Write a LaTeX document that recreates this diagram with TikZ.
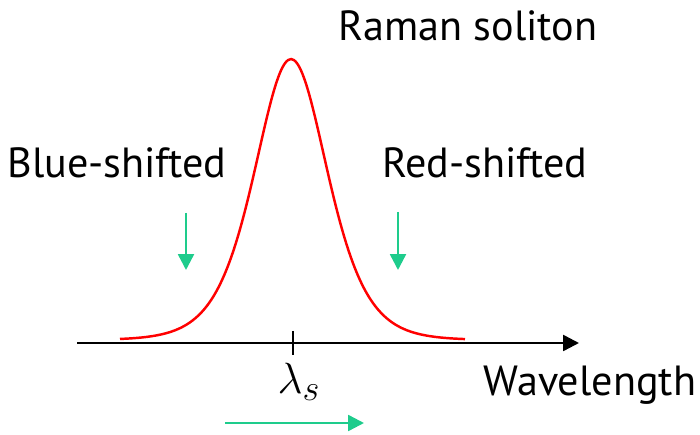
\documentclass[tikz,border=0pt]{standalone}
\usepackage{fontspec}
\setmainfont{PT Sans}
\usepackage{tikz}
\usetikzlibrary{positioning, arrows.meta}

\definecolor{shiftgreen}{RGB}{30,204,140}

\begin{document}
\begin{tikzpicture}[
  x=0.02cm, y=-0.02cm,
  lbl/.style={font=\fontsize{24}{28}\selectfont, inner sep=0pt},
  garr/.style={-{Triangle[length=9pt, width=9pt]}, shiftgreen, line width=1.4pt},
  axis/.style={-{Triangle[length=9pt, width=9pt]}, line width=1.4pt},
  pulse/.style={red, line width=1.4pt}
]
\useasboundingbox (0,0) rectangle (700,435);

% axis and tick
\coordinate (a0) at (77,343);
\coordinate (a1) at (579,343);
\draw[axis] (a0) -- (a1);
\coordinate (t0) at (293,331);
\coordinate (t1) at (293,355);
\draw[line width=1.4pt] (t0) -- (t1);

% soliton (sech^2)
\draw[pulse] plot[domain=120:465, samples=120, smooth]
  (\x, {340 - 281/(cosh((\x-291)/49))^2});

% labels
\node[lbl] (title) at (468,26) {Raman soliton};
\node[lbl] (blue) at (117,163) {Blue-shifted};
\node[lbl] (redl) at (485,163) {Red-shifted};
\node[lbl] (wave) at (590,385) {Wavelength};
\node[font=\fontsize{32}{36}\selectfont, inner sep=0pt] (lam) at (299,382) {$\lambda_s$};

% green arrows
\coordinate (b0) at (186,213);
\coordinate (b1) at (186,270);
\draw[garr] (b0) -- (b1);
\coordinate (r0) at (398,212);
\coordinate (r1) at (398,270);
\draw[garr] (r0) -- (r1);
\coordinate (s0) at (225,423);
\coordinate (s1) at (364,423);
\draw[garr] (s0) -- (s1);
\end{tikzpicture}
\end{document}
